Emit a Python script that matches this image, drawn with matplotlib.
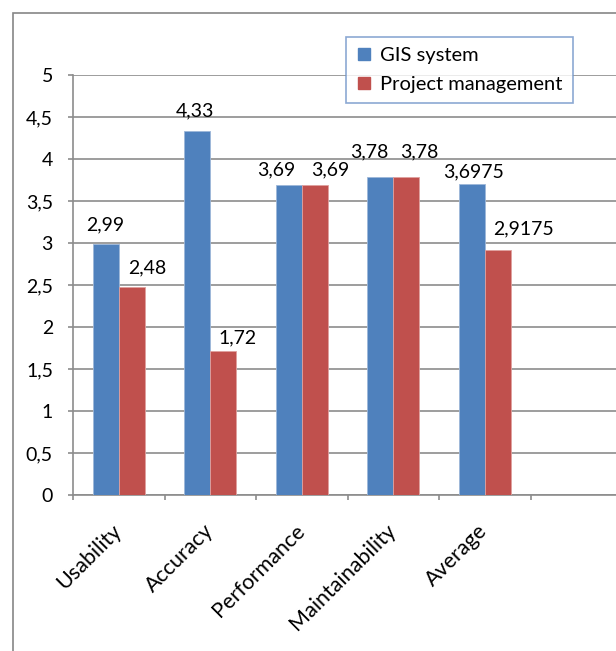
import numpy as np
import matplotlib
matplotlib.use("Agg")
import matplotlib.pyplot as plt
from matplotlib.patches import Rectangle
from matplotlib.lines import Line2D

plt.rcParams["font.family"] = ["Lato", "DejaVu Sans"]

categories = ["Usability", "Accuracy", "Performance", "Maintainability", "Average"]
gis = [2.99, 4.33, 3.69, 3.78, 3.6975]
pm = [2.48, 1.72, 3.69, 3.78, 2.9175]
gis_labels = ["2,99", "4,33", "3,69", "3,78", "3,6975"]
pm_labels = ["2,48", "1,72", "3,69", "3,78", "2,9175"]
yticks = [0, 0.5, 1, 1.5, 2, 2.5, 3, 3.5, 4, 4.5, 5]
ytick_labels = ["0", "0,5", "1", "1,5", "2", "2,5", "3", "3,5", "4", "4,5", "5"]

# label nudges (dx, dy) in pixels, the way Excel placed them
gis_nudge = [(0, 13), (-2, 15), (-12, 10), (-11, 20), (2, 7)]
pm_nudge = [(15, 13), (14, 7), (15, 10), (13, 20), (26, 16)]

blue = "#4F81BD"
red = "#C0504D"
grid = "#8C8C8C"
fs = 14

fig = plt.figure(figsize=(6.16, 6.51), dpi=100)
ax = fig.add_axes([73 / 616, 156 / 651, 549 / 616, 420 / 651])

# outer chart border (cropped at right and bottom)
fig.patches.append(Rectangle((13 / 616, -0.1), 1.2, 1.1 - 13 / 651, transform=fig.transFigure,
                             fill=False, edgecolor="#868686", linewidth=1.2))

x = np.arange(len(categories))
w = 1 / 3.5
b1 = ax.bar(x - w / 2, gis, w, color=blue, edgecolor="#9DB7D9", linewidth=0.6, zorder=3)
b2 = ax.bar(x + w / 2, pm, w, color=red, edgecolor="#E0A09E", linewidth=0.6, zorder=3)

px = 72 / 100
for bars, labels, nudges in [(b1, gis_labels, gis_nudge), (b2, pm_labels, pm_nudge)]:
    for rect, lab, (dx, dy) in zip(bars, labels, nudges):
        ax.annotate(lab, (rect.get_x() + rect.get_width() / 2, rect.get_height()),
                    xytext=(dx * px, dy * px), textcoords="offset points",
                    ha="center", va="baseline", fontsize=fs)

ax.set_xlim(-0.5, 5.5)
ax.set_ylim(0, 5)
ax.set_yticks(yticks)
ax.set_yticklabels(ytick_labels, fontsize=fs)
ax.yaxis.grid(True, color=grid, linewidth=1.2, zorder=0)
ax.set_axisbelow(True)

# category tick marks at the slot boundaries
ax.set_xticks(np.arange(-0.5, 6, 1))
ax.set_xticklabels([])
ax.tick_params(axis="x", length=5 * px, color=grid, width=1.2)
ax.tick_params(axis="y", length=5 * px, color=grid, width=1.2, pad=15 * px)
for i, c in enumerate(categories):
    ax.text(i - 0.08, -0.3, c, rotation=45, ha="right", va="top", rotation_mode="anchor",
            fontsize=15.5, transform=ax.transData)

for s in ["top", "right"]:
    ax.spines[s].set_visible(False)
ax.spines["left"].set_color(grid)
ax.spines["bottom"].set_color(grid)
ax.spines["left"].set_linewidth(1.2)
ax.spines["bottom"].set_linewidth(1.2)

handles = [Line2D([], [], marker="s", linestyle="", markersize=8, color=blue),
           Line2D([], [], marker="s", linestyle="", markersize=8, color=red)]
leg = fig.legend(handles, ["GIS system", "Project management"], loc="upper left",
                 bbox_to_anchor=(346 / 616, 1 - 37 / 651), fontsize=14.5, frameon=True,
                 fancybox=False, handlelength=0.8, handletextpad=0.4, borderpad=0.5,
                 borderaxespad=0, labelspacing=0.6)
leg.get_frame().set_edgecolor("#6F93C8")
leg.get_frame().set_linewidth(1.2)

fig.savefig("out.png", dpi=100)
